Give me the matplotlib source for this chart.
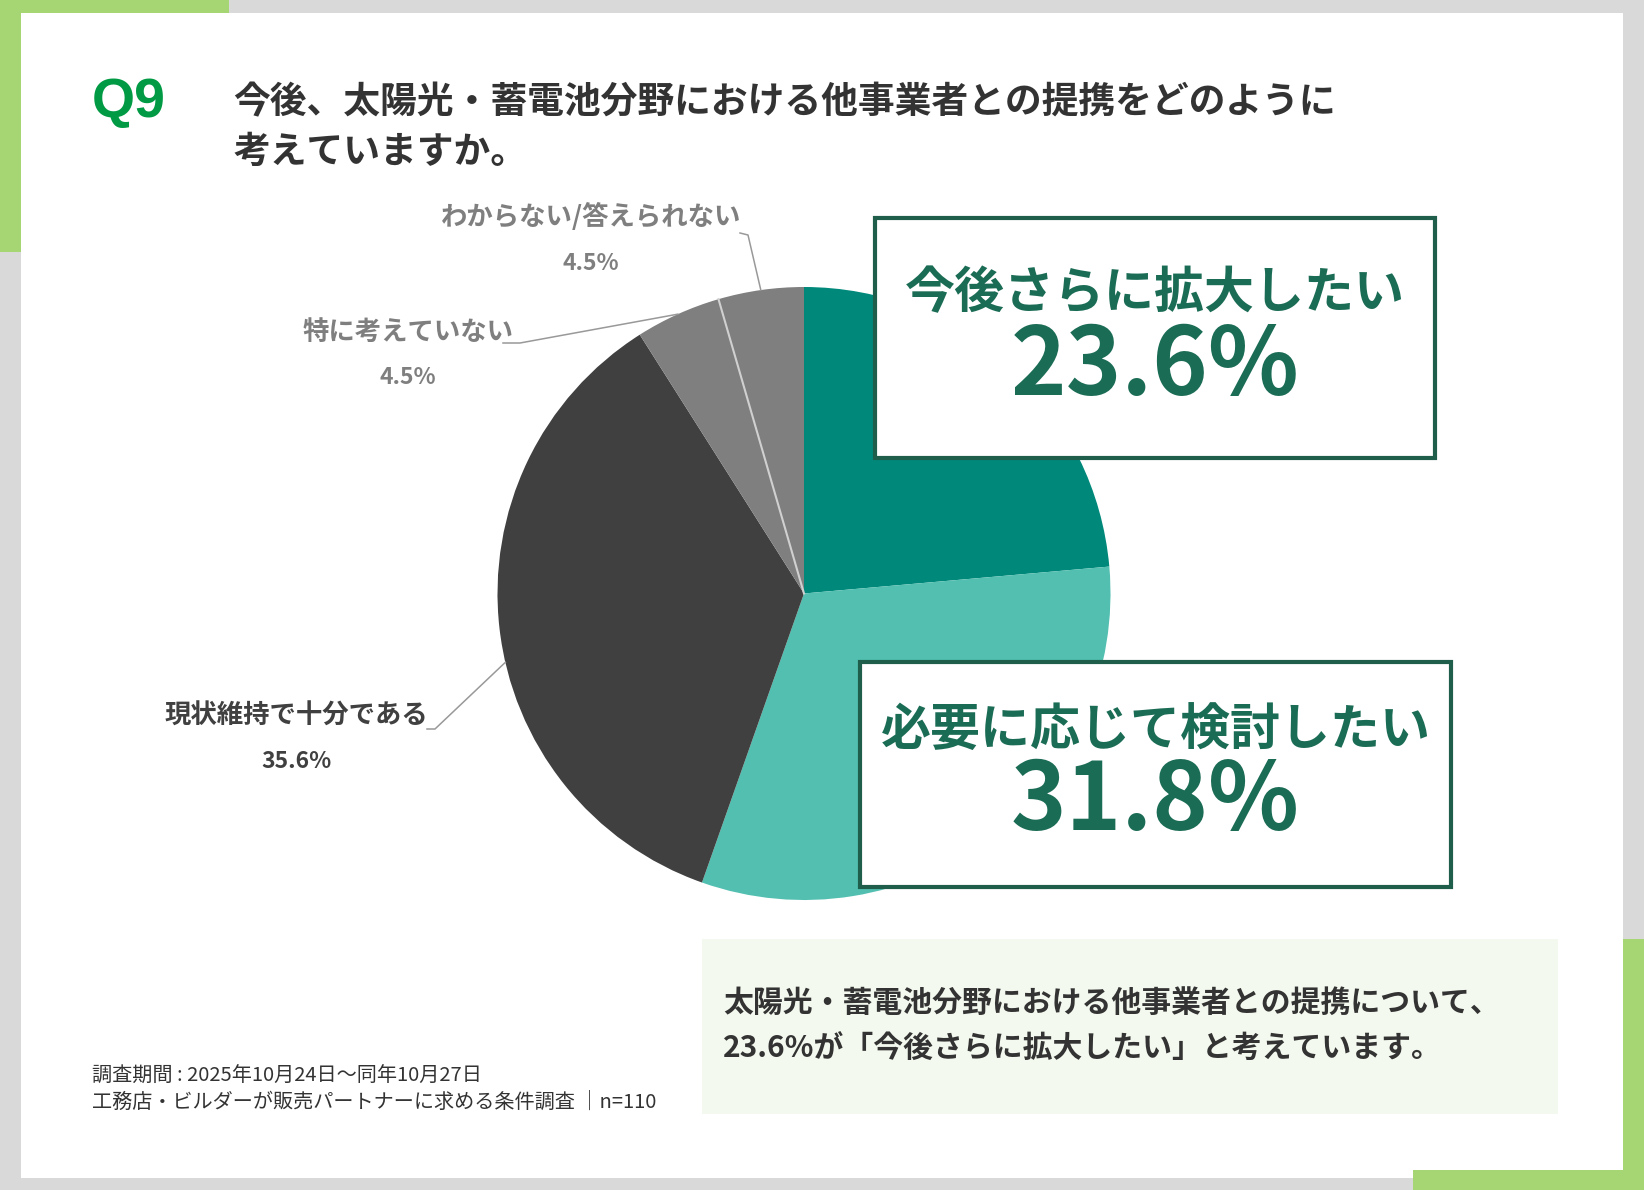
import numpy as np
import matplotlib
matplotlib.use("Agg")
import matplotlib.pyplot as plt
from matplotlib.patches import Rectangle

plt.rcParams['font.family'] = ['Noto Sans CJK JP', 'DejaVu Sans']

# data
labels = ['今後さらに拡大したい', '必要に応じて検討したい', '現状維持で十分である',
          '特に考えていない', 'わからない/答えられない']
values = [23.6, 31.8, 35.6, 4.5, 4.5]
colors = ['#00897a', '#52bfb0', '#404040', '#7f7f7f', '#7f7f7f']

title_lines = ['今後、太陽光・蓄電池分野における他事業者との提携をどのように',
               '考えていますか。']
summary_lines = ['太陽光・蓄電池分野における他事業者との提携について、',
                 '23.6%が「今後さらに拡大したい」と考えています。']
note_lines = ['調査期間 : 2025年10月24日～同年10月27日',
              '工務店・ビルダーが販売パートナーに求める条件調査 ｜n=110']

W, H = 1644, 1190


def Y(y):
    # page coordinates are measured from the top
    return H - y


fig = plt.figure(figsize=(W / 100, H / 100), dpi=100, facecolor='#d9d9d9')
ax = fig.add_axes([0, 0, 1, 1])

# pie
cx, cy, r = 804, Y(593.5), 306.5
wedges, _ = ax.pie(values, colors=colors, startangle=90, counterclock=False,
                   center=(cx, cy), radius=r, wedgeprops=dict(linewidth=0))
for w in wedges:
    w.set_zorder(2)
ax.set_xlim(0, W)
ax.set_ylim(0, H)
ax.set_aspect('auto')
ax.axis('off')

# thin light line between the two grey slices
b = np.deg2rad(wedges[4].theta2)
ax.plot([cx, cx + r * np.cos(b)], [cy, cy + r * np.sin(b)], color='#d0d0d0', lw=1.5, zorder=2.5)

# page frame
ax.add_patch(Rectangle((21, Y(1178)), 1602, 1178 - 12.5, facecolor='white', edgecolor='none', zorder=0))
green = '#a6d574'
ax.add_patch(Rectangle((0, Y(12.5)), 229, 12.5, facecolor=green, edgecolor='none', zorder=1))
ax.add_patch(Rectangle((0, Y(252)), 21, 252, facecolor=green, edgecolor='none', zorder=1))
ax.add_patch(Rectangle((1623, 0), 21, H - 939, facecolor=green, edgecolor='none', zorder=1))
ax.add_patch(Rectangle((1413, 0), 231, 20, facecolor=green, edgecolor='none', zorder=1))

# title
ax.text(92, Y(103), 'Q9', family='Liberation Sans', weight='bold', fontsize=40,
        color='#009a44', va='center', ha='left')
for i, line in enumerate(title_lines):
    ax.text(233, Y(103 + 49 * i), line, fontsize=26.5, weight='bold', color='#333333',
            va='center', ha='left')

# small pie labels with leader lines
grey_lab = '#7f7f7f'
label_spec = [
    # index, text x, text y, leader points, angle offset, colour
    (4, 591, 217, [(740, 233), (748, 235)], 0, grey_lab),
    (3, 408, 332, [(503, 343), (520, 343)], 0, grey_lab),
    (2, 296, 716, [(427, 729), (435, 729)], 6.5, '#404040'),
]
for idx, tx, ty, pts, off, col in label_spec:
    ax.text(tx, Y(ty), labels[idx], fontsize=19, weight='bold', color=col, ha='center', va='center')
    ax.text(tx, Y(ty + 46), f'{values[idx]}%', fontsize=16.5, weight='bold', color=col,
            ha='center', va='center')
    w = wedges[idx]
    a = np.deg2rad((w.theta1 + w.theta2) / 2 + off)
    xs = [p[0] for p in pts] + [cx + r * np.cos(a)]
    ys = [Y(p[1]) for p in pts] + [cy + r * np.sin(a)]
    ax.plot(xs, ys, color='#999999', lw=1.1, zorder=3)

# callout boxes for the two teal slices
box_edge = '#1f5e4b'
box_text = '#1b6c55'
box_spec = [
    (0, 875, 218, 560, 240, 294, 367),
    (1, 860, 662, 591, 225, 731, 802),
]
for idx, bx, by, bw, bh, ly, py in box_spec:
    ax.add_patch(Rectangle((bx, Y(by + bh)), bw, bh, facecolor='white', edgecolor=box_edge,
                           lw=3, zorder=4))
    mx = bx + bw / 2
    ax.text(mx, Y(ly), labels[idx], fontsize=36, weight='bold', color=box_text,
            ha='center', va='center', zorder=5)
    ax.text(mx, Y(py), f'{values[idx]}%', fontsize=68, weight='bold', color=box_text,
            ha='center', va='center', zorder=5)

# summary box
ax.add_patch(Rectangle((702, Y(1114)), 856, 175, facecolor='#f3f9ee', edgecolor='none', zorder=1))
for i, line in enumerate(summary_lines):
    ax.text(723, Y(1003 + 46 * i), line, fontsize=21.5, weight='bold', color='#333333',
            ha='left', va='center', zorder=2)

# survey note
for i, line in enumerate(note_lines):
    ax.text(92, Y(1076 + 26 * i), line, fontsize=14.5, color='#333333', ha='left', va='center')

fig.savefig('out.png', dpi=100, facecolor=fig.get_facecolor())
